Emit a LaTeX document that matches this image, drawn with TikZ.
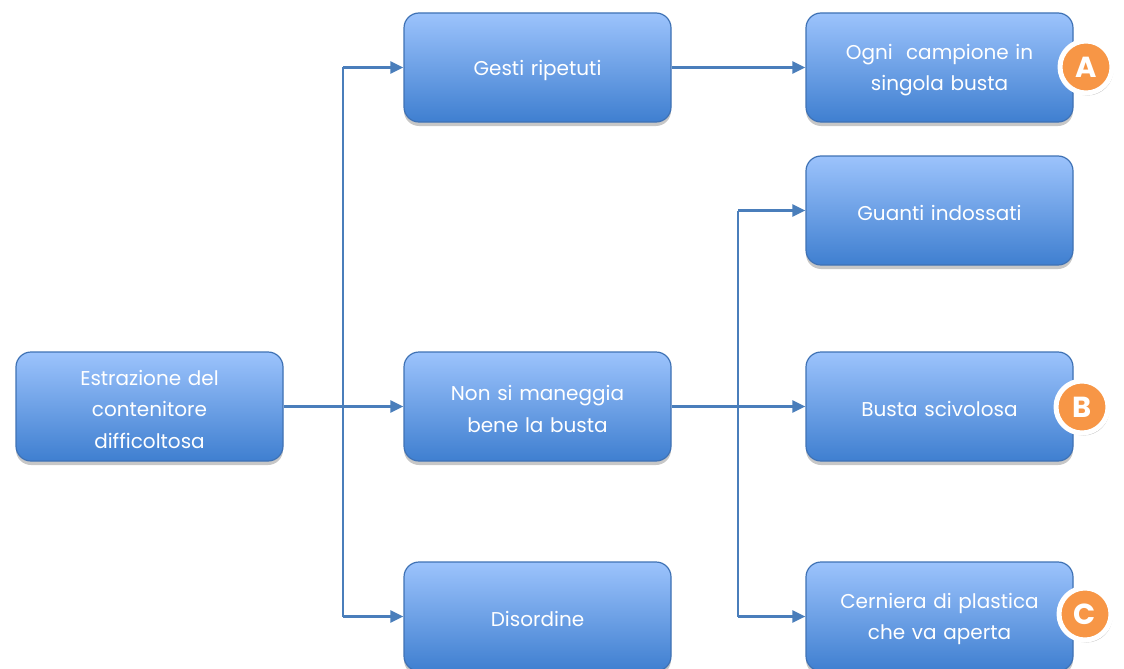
\documentclass[tikz,border=0pt]{standalone}
\usepackage{fontspec}
\setmainfont{Poppins}
\usetikzlibrary{arrows.meta,shadows}
\definecolor{linkblue}{HTML}{4A7EBB}
\definecolor{boxtop}{HTML}{9CC3FC}
\definecolor{boxbot}{HTML}{3F7FD0}
\definecolor{boxedge}{HTML}{3F72B5}
\definecolor{badgeorange}{HTML}{F79646}
\tikzset{
  box/.style={draw=boxedge, line width=1.2pt, rounded corners=15pt,
    top color=boxtop, bottom color=boxbot,
    minimum width=267pt, minimum height=109pt, inner sep=0pt,
    drop shadow={shadow xshift=0pt, shadow yshift=-4pt, opacity=0.22, fill=black}},
  boxtext/.style={inner sep=0pt, text=white, align=center, text width=255pt,
    font=\fontsize{20}{31.5}\selectfont},
  link/.style={draw=linkblue, line width=2.4pt, -{Triangle[length=13pt,width=12pt]}},
  plain/.style={draw=linkblue, line width=2.4pt},
  badge/.style={circle, fill=badgeorange, draw=white, line width=5pt,
    minimum size=52pt, inner sep=0pt, text=white,
    font=\fontsize{29}{29}\selectfont\bfseries,
    drop shadow={shadow xshift=1.5pt, shadow yshift=-2.5pt, opacity=0.25, fill=black}}
}
% a rounded card with its caption set a little below the centre
\newcommand\cardbox[3]{%
  \node[box] (#1) at (#2) {};
  \node[boxtext] (#1-text) at ([yshift=-2.5pt]#1.center) {#3};}
\begin{document}
\begin{tikzpicture}[x=1pt, y=-1pt]
\useasboundingbox (0,0) rectangle (1124,669);
\fill[white] (0,0) rectangle (1124,669);

% first level
\cardbox{root}{149.5,406.5}{Estrazione del\\contenitore\\difficoltosa}
% second level
\cardbox{gesti}{537.5,67.5}{Gesti ripetuti}
\cardbox{maneggia}{537.5,406.5}{Non si maneggia\\bene la busta}
\cardbox{disordine}{537.5,616.5}{Disordine}
% third level
\cardbox{ogni}{939.5,67.5}{Ogni\ \ campione in\\singola busta}
\cardbox{guanti}{939.5,210.5}{Guanti indossati}
\cardbox{busta}{939.5,406.5}{Busta scivolosa}
\cardbox{cerniera}{939.5,616.5}{Cerniera di plastica\\che va aperta}

% branch points
\coordinate (t1top) at (343,67.5);
\coordinate (t1bot) at (343,616.5);
\coordinate (t2top) at (738,210.5);
\coordinate (t2bot) at (738,616.5);

% connectors
\draw[plain] (t1top) -- (t1bot);
\draw[link] (root.east) -- (maneggia.west);
\draw[link] (t1top) -- (gesti.west);
\draw[link] (t1bot) -- (disordine.west);
\draw[link] (gesti.east) -- (ogni.west);
\draw[plain] (t2top) -- (t2bot);
\draw[link] (maneggia.east) -- (busta.west);
\draw[link] (t2top) -- (guanti.west);
\draw[link] (t2bot) -- (cerniera.west);

% markers
\node[badge] (ba) at (1086,67) {A};
\node[badge] (bb) at (1082,407) {B};
\node[badge] (bc) at (1085,614) {C};
\end{tikzpicture}
\end{document}
